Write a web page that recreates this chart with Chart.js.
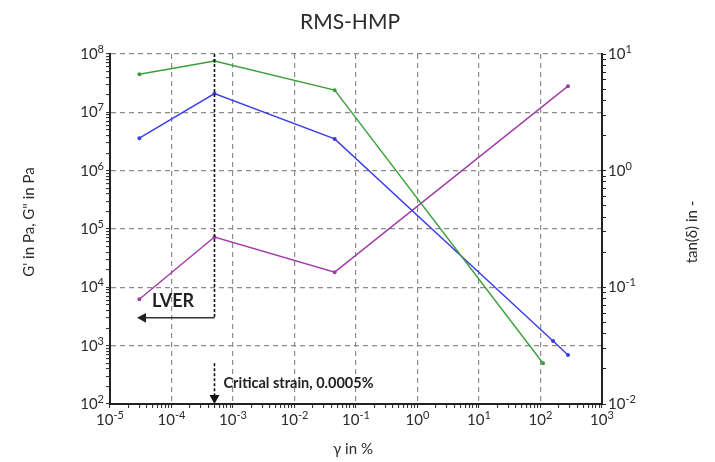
<!DOCTYPE html>
<html>
<head>
<meta charset="utf-8">
<title>RMS-HMP</title>
<script src="https://cdn.jsdelivr.net/npm/chart.js@4.4.1/dist/chart.umd.min.js"></script>
<style>
  html, body { margin: 0; padding: 0; background: #fff; }
  #wrap { width: 715px; height: 462px; }
</style>
</head>
<body>
<div id="wrap"><canvas id="chart" width="715" height="462"></canvas></div>
<script>
// amplitude sweep, strain γ in %
const strainStorage = [3e-5, 5e-4, 0.045, 110];
const storageModulus = [4.5e7, 7.6e7, 2.4e7, 500];      // G' in Pa
const strainLoss = [3e-5, 5e-4, 0.045, 160, 280];
const lossModulus = [3.6e6, 2.1e7, 3.5e6, 1200, 690];    // G" in Pa
const strainTan = [3e-5, 5e-4, 0.045, 280];
const tanDelta = [0.079, 0.27, 0.135, 5.3];              // tan(δ)

// decade exponents for the three log axes
const xDecades = [-5, -4, -3, -2, -1, 0, 1, 2, 3];
const yDecades = [2, 3, 4, 5, 6, 7, 8];
const tanDecades = [-2, -1, 0, 1];

const criticalStrain = 5e-4;
const lverArrowFrom = 2.75e-5;   // arrow tip, strain
const lverArrowLevel = 3000;     // Pa
const lverTextPos = [4.8e-5, 5800];
const criticalTextLevel = 230;
const criticalArrowTop = 500;

const FONT = 'Lato, "Open Sans", sans-serif';
const GRID = '#8c8c8c';

function logTicks(decades) {
  const ticks = [];
  decades.forEach((e, i) => {
    const base = Math.pow(10, e);
    ticks.push({ value: base, major: true });
    if (i < decades.length - 1) {
      for (let m = 2; m <= 9; m++) ticks.push({ value: m * base, major: false });
    }
  });
  return ticks;
}

// dashed grid on decades only, skipped where it sits on a solid axis
function gridColor(hidden) {
  return ctx => {
    const t = ctx.tick;
    if (!t || !t.major) return 'rgba(0,0,0,0)';
    if (hidden.indexOf(t.value) >= 0) return 'rgba(0,0,0,0)';
    return GRID;
  };
}

function points(xs, ys) {
  return xs.map((x, i) => ({ x: x, y: ys[i] }));
}

function drawPow(ctx, exp, x, y, align) {
  ctx.font = '15px ' + FONT;
  const wb = ctx.measureText('10').width;
  ctx.font = '11px ' + FONT;
  const sup = String(exp);
  const ws = ctx.measureText(sup).width;
  const total = wb + ws;
  let left = x;
  if (align === 'center') left = x - total / 2;
  if (align === 'right') left = x - total;
  ctx.textAlign = 'left';
  ctx.textBaseline = 'alphabetic';
  ctx.font = '15px ' + FONT;
  ctx.fillText('10', left, y);
  ctx.font = '11px ' + FONT;
  ctx.fillText(sup, left + wb, y - 6);
}

function arrowHead(ctx, x, y, dir, size) {
  ctx.beginPath();
  if (dir === 'left') {
    ctx.moveTo(x, y);
    ctx.lineTo(x + size, y - size * 0.55);
    ctx.lineTo(x + size, y + size * 0.55);
  } else {
    ctx.moveTo(x, y);
    ctx.lineTo(x - size * 0.55, y - size);
    ctx.lineTo(x + size * 0.55, y - size);
  }
  ctx.closePath();
  ctx.fill();
}

const decor = {
  id: 'decor',
  afterDraw(chart) {
    const ctx = chart.ctx;
    const sx = chart.scales.x, sy = chart.scales.y, st = chart.scales.y1;
    ctx.save();
    ctx.fillStyle = '#2b2b2b';

    // tick labels as powers of ten
    xDecades.forEach(e => drawPow(ctx, e, sx.getPixelForValue(Math.pow(10, e)), sx.top + 21, 'center'));
    yDecades.forEach(e => drawPow(ctx, e, sy.right - 6, sy.getPixelForValue(Math.pow(10, e)) + 5, 'right'));
    tanDecades.forEach(e => drawPow(ctx, e, st.left + 6, st.getPixelForValue(Math.pow(10, e)) + 5, 'left'));

    // titles
    ctx.textAlign = 'center';
    ctx.textBaseline = 'middle';
    ctx.font = '21px ' + FONT;
    ctx.fillText('RMS-HMP', 350, 22);
    ctx.font = '15px ' + FONT;
    ctx.fillText('γ in %', 353, 449);
    ctx.save();
    ctx.translate(29, 222);
    ctx.rotate(-Math.PI / 2);
    ctx.fillText('G\' in Pa, G" in Pa', 0, 0);
    ctx.restore();
    ctx.save();
    ctx.translate(692, 232);
    ctx.rotate(-Math.PI / 2);
    ctx.fillText('tan(δ) in -', 0, 0);
    ctx.restore();

    // critical strain marker and LVER arrow
    const cx = sx.getPixelForValue(criticalStrain);
    const lverY = sy.getPixelForValue(lverArrowLevel);
    ctx.strokeStyle = '#111';
    ctx.lineWidth = 1.6;
    ctx.setLineDash([3, 2]);
    ctx.beginPath();
    ctx.moveTo(cx, chart.chartArea.top);
    ctx.lineTo(cx, lverY);
    ctx.stroke();
    const aTop = sy.getPixelForValue(criticalArrowTop);
    const aBot = chart.chartArea.bottom;
    ctx.beginPath();
    ctx.moveTo(cx, aTop);
    ctx.lineTo(cx, aBot - 6);
    ctx.stroke();
    ctx.setLineDash([]);
    ctx.fillStyle = '#111';
    arrowHead(ctx, cx, aBot, 'down', 9);

    const tipX = sx.getPixelForValue(lverArrowFrom);
    ctx.strokeStyle = '#333';
    ctx.lineWidth = 1.5;
    ctx.beginPath();
    ctx.moveTo(cx, lverY);
    ctx.lineTo(tipX + 6, lverY);
    ctx.stroke();
    ctx.fillStyle = '#222';
    arrowHead(ctx, tipX, lverY, 'left', 9);

    ctx.textAlign = 'left';
    ctx.textBaseline = 'middle';
    ctx.font = 'bold 18px ' + FONT;
    ctx.fillText('LVER', sx.getPixelForValue(lverTextPos[0]), sy.getPixelForValue(lverTextPos[1]));
    ctx.font = 'bold 14.5px ' + FONT;
    ctx.fillText('Critical strain, 0.0005%', cx + 9, sy.getPixelForValue(criticalTextLevel));
    ctx.restore();
  }
};

const lineStyle = color => ({
  borderColor: color,
  backgroundColor: color,
  borderWidth: 1.4,
  pointRadius: 1.3,
  pointHoverRadius: 1.3,
  tension: 0,
  fill: false
});

new Chart(document.getElementById('chart'), {
  type: 'line',
  data: {
    datasets: [
      Object.assign({ label: "G'", data: points(strainStorage, storageModulus), yAxisID: 'y' }, lineStyle('#3a9f3a')),
      Object.assign({ label: 'G"', data: points(strainLoss, lossModulus), yAxisID: 'y' }, lineStyle('#3b3be8')),
      Object.assign({ label: 'tan(δ)', data: points(strainTan, tanDelta), yAxisID: 'y1' }, lineStyle('#a33aa8'))
    ]
  },
  options: {
    responsive: false,
    animation: false,
    devicePixelRatio: 1,
    layout: { padding: { top: 54, left: 0, right: 0, bottom: 0 } },
    plugins: { legend: { display: false }, tooltip: { enabled: false }, title: { display: false } },
    scales: {
      x: {
        type: 'logarithmic',
        position: 'bottom',
        min: 1e-5, max: 1e3,
        afterBuildTicks: s => { s.ticks = logTicks(xDecades); },
        afterFit: s => { s.height = 58; },
        ticks: { display: false, autoSkip: false },
        grid: { color: gridColor([1e-5, 1e3]), lineWidth: 1.2, tickColor: '#222', tickLength: 4, tickWidth: 1 },
        border: { color: '#222', width: 2, dash: [5, 4] }
      },
      y: {
        type: 'logarithmic',
        position: 'left',
        min: 1e2, max: 1e8,
        afterBuildTicks: s => { s.ticks = logTicks(yDecades); },
        afterFit: s => { s.width = 110; },
        ticks: { display: false, autoSkip: false },
        grid: { color: gridColor([1e2]), lineWidth: 1.2, tickColor: '#222', tickLength: 4, tickWidth: 1 },
        border: { color: '#222', width: 2, dash: [5, 4] }
      },
      y1: {
        type: 'logarithmic',
        position: 'right',
        min: 1e-2, max: 1e1,
        afterBuildTicks: s => { s.ticks = logTicks(tanDecades); },
        afterFit: s => { s.width = 113; },
        ticks: { display: false, autoSkip: false },
        grid: { drawOnChartArea: false, tickColor: '#222', tickLength: 4, tickWidth: 1 },
        border: { color: '#222', width: 2 }
      }
    }
  },
  plugins: [decor]
});
</script>
</body>
</html>
